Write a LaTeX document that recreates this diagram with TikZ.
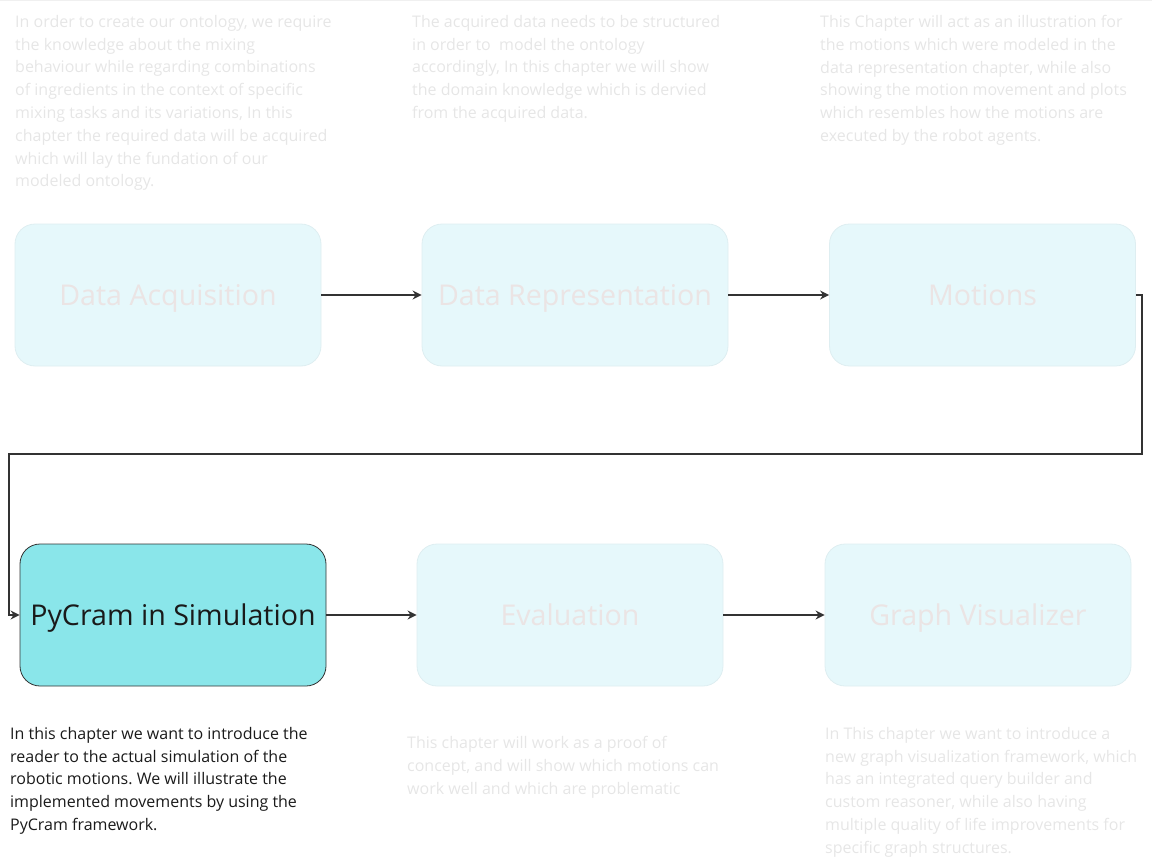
\documentclass[tikz,border=0pt]{standalone}
\usepackage{fontspec}
\setmainfont{Open Sans}
\usetikzlibrary{arrows.meta}
\frenchspacing
\definecolor{fadetxt}{RGB}{230,230,230}
\definecolor{fadebox}{RGB}{230,248,251}
\definecolor{fadeline}{RGB}{222,238,241}
\definecolor{boxtxt}{RGB}{235,228,228}
\definecolor{activefill}{RGB}{138,230,234}
\definecolor{dark}{RGB}{51,51,51}
\definecolor{txtdark}{RGB}{26,26,26}
\tikzset{
  chapter/.style={rounded corners=20pt, minimum width=306pt, minimum height=142pt, inner sep=0pt, font=\fontsize{28.6}{32}\selectfont, text height=20.4pt, text depth=0pt},
  faded/.style={chapter, fill=fadebox, draw=fadeline, line width=0.8pt, text=boxtxt},
  active/.style={chapter, fill=activefill, draw=dark, line width=0.8pt, text=txtdark},
  desc/.style={anchor=north west, align=left, inner sep=0pt, font=\fontsize{16}{22.8}\selectfont},
  fadedesc/.style={desc, text=fadetxt},
  arr/.style={draw=dark, line width=2.4pt, -{Stealth[length=9pt,width=9pt]}},
}
\begin{document}
\begin{tikzpicture}[x=1pt,y=-1pt]
\useasboundingbox (0,0) rectangle (1152,867);
\draw[gray!12, line width=1pt] (0,0.5) -- (1152,0.5);
% boxes
\node[faded] (da) at (168,295) {Data Acquisition};
\node[faded] (dr) at (575,295) {Data Representation};
\node[faded] (mo) at (982.5,295) {Motions};
\node[active] (py) at (173,615) {PyCram in Simulation};
\node[faded] (ev) at (570,615) {Evaluation};
\node[faded] (gv) at (978,615) {Graph Visualizer};
% descriptions
\node[fadedesc] (tda) at (15,15) {In order to create our ontology, we require\\the knowledge about the mixing\\behaviour while regarding combinations\\of ingredients in the context of specific\\mixing tasks and its variations, In this\\chapter the required data will be acquired\\which will lay the fundation of our\\modeled ontology.};
\node[fadedesc] (tdr) at (412,15) {The acquired data needs to be structured\\in order to \ model the ontology\\accordingly, In this chapter we will show\\the domain knowledge which is dervied\\from the acquired data.};
\node[fadedesc] (tmo) at (820,15) {This Chapter will act as an illustration for\\the motions which were modeled in the\\data representation chapter, while also\\showing the motion movement and plots\\which resembles how the motions are\\executed by the robot agents.};
\node[desc, text=txtdark] (tpy) at (10,727) {In this chapter we want to introduce the\\reader to the actual simulation of the\\robotic motions. We will illustrate the\\implemented movements by using the\\PyCram framework.};
\node[fadedesc] (tev) at (407,736) {This chapter will work as a proof of\\concept, and will show which motions can\\work well and which are problematic};
\node[fadedesc] (tgv) at (825,727) {In This chapter we want to introduce a\\new graph visualization framework, which\\has an integrated query builder and\\custom reasoner, while also having\\multiple quality of life improvements for\\specific graph structures.};
% connectors
\coordinate (cr) at (1142,454);
\coordinate (cl) at (9,454);
\draw[arr] (da.east) -- (dr.west);
\draw[arr] (dr.east) -- (mo.west);
\draw[arr] (mo.east) -| (cr) -- (cl) |- (py.west);
\draw[arr] (py.east) -- (ev.west);
\draw[arr] (ev.east) -- (gv.west);
\end{tikzpicture}
\end{document}
